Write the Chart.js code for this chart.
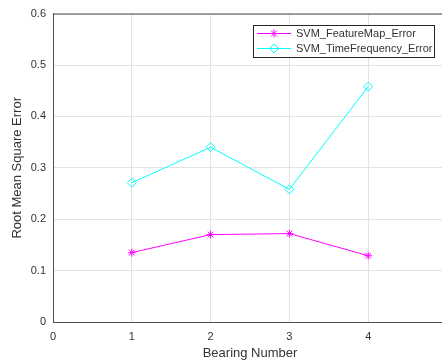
<!DOCTYPE HTML>
<html>

<head>
  <meta charset="utf-8" />
  <script src="https://cdn.jsdelivr.net/npm/chart.js@4.4.0/dist/chart.umd.min.js"></script>
  <style>
    body {
      margin: 0;
      background: #fff;
    }

    .wrap {
      width: 442px;
      height: 361px;
      overflow: hidden;
    }

    .wrap div {
      width: 455px;
      height: 361px;
    }
  </style>
</head>

<body>
  <div class="wrap"><div><canvas id="chart-rmse"></canvas></div></div>
</body>
<script>
  // bearing numbers and RMSE per method
  var bearings = [1, 2, 3, 4];
  var featureMapErr = [0.135, 0.170, 0.172, 0.129];
  var timeFreqErr = [0.271, 0.340, 0.258, 0.458];
  var seriesNames = ['SVM_FeatureMap_Error', 'SVM_TimeFrequency_Error'];

  var FONT = "'Liberation Sans', Arial, sans-serif";
  var AXIS = '#4d4d4d';
  var TEXT = '#333333';

  function toPoints(ys) {
    return bearings.map(function (b, i) { return { x: b, y: ys[i] }; });
  }

  // legend box in the top-right corner of the plot, plus the top frame line
  var boxLegend = {
    id: 'boxLegend',
    afterDraw: function (chart) {
      var c = chart.ctx, a = chart.chartArea;
      c.save();
      c.strokeStyle = AXIS;
      c.lineWidth = 1;
      c.beginPath();
      c.moveTo(a.left, a.top + 0.5);
      c.lineTo(a.right, a.top + 0.5);
      c.moveTo(a.right - 0.5, a.top);
      c.lineTo(a.right - 0.5, a.bottom);
      c.stroke();

      var x0 = 253.5, y0 = 25.5, w = 181, h = 32;
      c.fillStyle = '#fff';
      c.fillRect(x0, y0, w, h);
      c.strokeStyle = '#262626';
      c.strokeRect(x0, y0, w, h);
      c.font = '11px ' + FONT;
      c.textBaseline = 'middle';
      chart.data.datasets.forEach(function (ds, i) {
        var y = 33.5 + i * 15;
        c.strokeStyle = ds.borderColor;
        c.lineWidth = 1;
        c.beginPath();
        c.moveTo(257, y);
        c.lineTo(291, y);
        c.stroke();
        c.fillStyle = 'rgba(0,0,0,0)';
        Chart.helpers.drawPoint(c, {
          pointStyle: ds.pointStyle,
          radius: ds.pointRadius,
          borderWidth: 1
        }, 274, y);
        c.fillStyle = TEXT;
        c.fillText(ds.label, 296, y + 0.5);
      });
      c.restore();
    }
  };

  var chart = new Chart(document.getElementById('chart-rmse'), {
    type: 'line',
    data: {
      datasets: [{
        label: seriesNames[0],
        data: toPoints(featureMapErr),
        borderColor: '#ff00ff',
        backgroundColor: 'rgba(0,0,0,0)',
        borderWidth: 1,
        pointStyle: 'star',
        pointRadius: 4,
        pointBorderColor: '#ff00ff',
        pointBorderWidth: 1,
        tension: 0
      }, {
        label: seriesNames[1],
        data: toPoints(timeFreqErr),
        borderColor: '#00ffff',
        backgroundColor: 'rgba(0,0,0,0)',
        borderWidth: 1,
        pointStyle: 'rectRot',
        pointRadius: 4.5,
        pointBorderColor: '#00ffff',
        pointBackgroundColor: 'rgba(0,0,0,0)',
        pointBorderWidth: 1,
        tension: 0
      }]
    },
    options: {
      responsive: true,
      maintainAspectRatio: false,
      animation: false,
      layout: { padding: { top: 13, right: 0, left: 0, bottom: 0 } },
      scales: {
        x: {
          type: 'linear',
          min: 0,
          max: 5,
          afterFit: function (s) { s.height = 39; },
          grid: { color: '#e3e3e3', drawTicks: false },
          border: { color: AXIS },
          ticks: {
            stepSize: 1,
            padding: 8,
            color: TEXT,
            font: { family: FONT, size: 11 },
            callback: function (v) { return v === 5 ? '' : v; }
          },
          title: {
            display: true,
            text: 'Bearing Number',
            color: TEXT,
            font: { family: FONT, size: 13 },
            padding: { top: 0, bottom: 0 }
          }
        },
        y: {
          min: 0,
          max: 0.6,
          afterFit: function (s) { s.width = 53; },
          grid: { color: '#e3e3e3', drawTicks: false },
          border: { color: AXIS },
          ticks: {
            stepSize: 0.1,
            padding: 7,
            color: TEXT,
            font: { family: FONT, size: 11 },
            callback: function (v) { return v === 0 ? '0' : v.toFixed(1); }
          },
          title: {
            display: true,
            text: 'Root Mean Square Error',
            color: TEXT,
            font: { family: FONT, size: 13 },
            padding: { top: 10, bottom: 0 }
          }
        }
      },
      plugins: {
        legend: { display: false },
        tooltip: { enabled: false }
      }
    },
    plugins: [boxLegend]
  });
</script>

</html>
